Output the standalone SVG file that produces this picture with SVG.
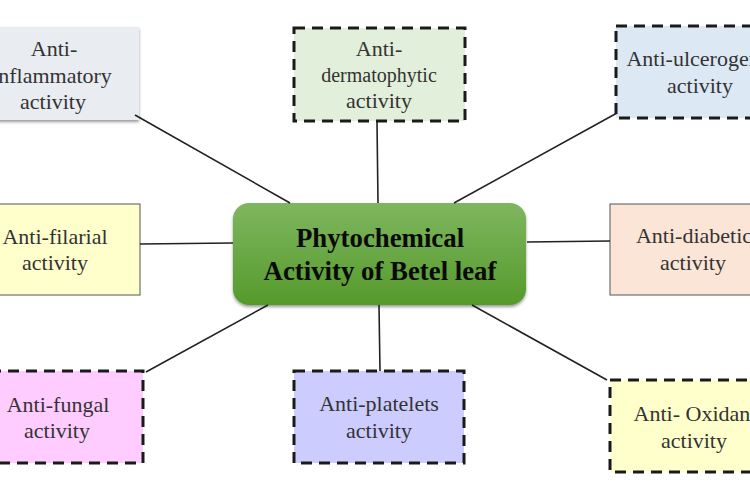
<svg xmlns="http://www.w3.org/2000/svg" width="750" height="499" viewBox="0 0 750 499">
<style>
text{font-family:"Liberation Serif","Times New Roman",serif;font-size:22px;fill:#333;text-anchor:middle}
.c{font-weight:700;font-size:26.8px;fill:#0a0a0a}
.d{stroke:#1a1a1a;stroke-width:3;stroke-dasharray:11 7}
.l{stroke:#222;stroke-width:1.6;fill:none}
.s{stroke:#555;stroke-width:1}
</style>
<defs>
<linearGradient id="g" x1="0" y1="0" x2="0" y2="1"><stop offset="0" stop-color="#7fb65f"/><stop offset="1" stop-color="#559a2b"/></linearGradient>
<filter id="sh" x="-5%" y="-5%" width="110%" height="115%"><feDropShadow dx="0" dy="2" stdDeviation="1.5" flood-color="#000" flood-opacity=".4"/></filter>
</defs>
<rect width="750" height="499" fill="#fff"/>
<g id="inflammatory"><rect x="-10" y="27" width="149" height="93" fill="#e9ecf1" filter="url(#sh)"/><text x="54" y="56">Anti-</text><text x="52" y="83">inflammatory</text><text x="53" y="109">activity</text></g>
<g id="dermatophytic"><rect x="294" y="28" width="171" height="93" fill="#e2efda" class="d"/><text x="379" y="56">Anti-</text><text x="379" y="82" style="font-size:20px">dermatophytic</text><text x="379" y="108">activity</text></g>
<g id="ulcerogenic"><rect x="616" y="26" width="150" height="92" fill="#dde8f5" class="d"/><text x="701" y="66">Anti-ulcerogenic</text><text x="700" y="93">activity</text></g>
<g id="filarial"><rect x="-10" y="204" width="150" height="91" fill="#ffffcc" class="s"/><text x="55" y="244">Anti-filarial</text><text x="55" y="270">activity</text></g>
<g id="center"><rect x="233" y="203" width="293" height="102" rx="16" fill="url(#g)" filter="url(#sh)"/><text class="c" x="380" y="247">Phytochemical</text><text class="c" x="380" y="280">Activity of Betel leaf</text></g>
<g id="diabetic"><rect x="610" y="204" width="150" height="91" fill="#fbe5d6" class="s"/><text x="694" y="243">Anti-diabetic</text><text x="693" y="270">activity</text></g>
<g id="fungal"><rect x="-10" y="371" width="153" height="92" fill="#ffccff" class="d"/><text x="58" y="412">Anti-fungal</text><text x="57" y="438">activity</text></g>
<g id="platelets"><rect x="294" y="371" width="170" height="92" fill="#ccccff" class="d"/><text x="379" y="411">Anti-platelets</text><text x="379" y="438">activity</text></g>
<g id="oxidant"><rect x="610" y="380" width="160" height="92" fill="#ffffcc" class="d"/><text x="695" y="421">Anti- Oxidant</text><text x="694" y="448">activity</text></g>
<g id="connectors">
<path class="l" d="M135 115L290 203M377 122L378 203M617 113L454 203M140 244L233 243M527 242L610 241M146 372L268 305M379 305L380 371M472 305L607 380"/>
</g>
</svg>
